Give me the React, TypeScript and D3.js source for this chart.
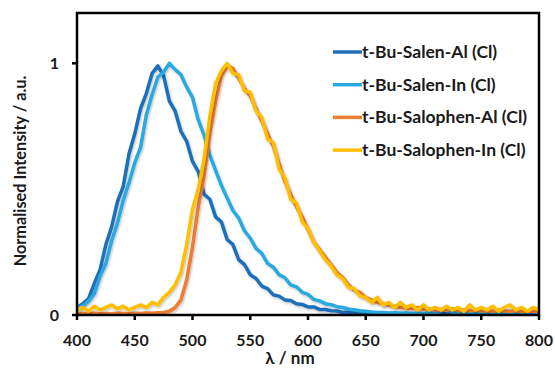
import React from "react";
import * as d3 from "d3";

const wavelengths: number[] = d3.range(400, 801, 5);

const seriesNames = [
  "t-Bu-Salen-Al (Cl)",
  "t-Bu-Salen-In (Cl)",
  "t-Bu-Salophen-Al (Cl)",
  "t-Bu-Salophen-In (Cl)",
];
const seriesColors = ["#1f6fba", "#29a9e1", "#ed7d31", "#ffbf00"];

const salenAl = [
  0.03, 0.045, 0.065, 0.125, 0.18, 0.28, 0.35, 0.45, 0.51, 0.64,
  0.72, 0.82, 0.88, 0.96, 0.99, 0.95, 0.85, 0.81, 0.73, 0.69,
  0.61, 0.57, 0.48, 0.46, 0.39, 0.37, 0.3, 0.28, 0.22, 0.2,
  0.16, 0.145, 0.115, 0.105, 0.08, 0.075, 0.06, 0.058, 0.045, 0.042,
  0.032, 0.032, 0.022, 0.022, 0.017, 0.016, 0.01, 0.012, 0.008, 0.009,
  0.006, 0.007, 0.008, 0.005, 0.006, 0.004, 0.006, 0.005, 0.004, 0.006,
  0.004, 0.005, 0.003, 0.006, 0.004, 0.005, 0.003, 0.004, 0.005, 0.003,
  0.004, 0.005, 0.003, 0.004, 0.003, 0.005, 0.003, 0.004, 0.003, 0.004,
  0.003,
];

const salenIn = [
  0.03, 0.035, 0.055, 0.085, 0.155, 0.205, 0.295, 0.365, 0.455, 0.525,
  0.605, 0.665, 0.795, 0.875, 0.945, 0.965, 1.0, 0.975, 0.955, 0.905,
  0.865, 0.775, 0.715, 0.635, 0.575, 0.515, 0.465, 0.415, 0.385, 0.335,
  0.305, 0.265, 0.245, 0.205, 0.19, 0.16, 0.148, 0.12, 0.112, 0.09,
  0.082, 0.062, 0.056, 0.045, 0.041, 0.033, 0.03, 0.024, 0.021, 0.017,
  0.015, 0.012, 0.01, 0.01, 0.008, 0.009, 0.007, 0.008, 0.006, 0.007,
  0.006, 0.008, 0.006, 0.015, 0.025, 0.01, 0.007, 0.006, 0.005, 0.007,
  0.005, 0.006, 0.004, 0.006, 0.005, 0.004, 0.006, 0.004, 0.005, 0.004,
  0.004,
];

const salophenAl = [
  0.005, 0.006, 0.005, 0.007, 0.005, 0.006, 0.005, 0.007, 0.006, 0.005,
  0.007, 0.006, 0.008, 0.007, 0.009, 0.01, 0.015, 0.03, 0.06, 0.14,
  0.27, 0.43, 0.55, 0.72, 0.85, 0.95, 0.99, 0.98, 0.94, 0.9,
  0.87, 0.82, 0.77, 0.72, 0.67, 0.6, 0.53, 0.48, 0.43, 0.39,
  0.34, 0.29, 0.26, 0.23, 0.2, 0.17, 0.15, 0.12, 0.1, 0.09,
  0.07, 0.06, 0.05, 0.045, 0.04, 0.035, 0.03, 0.028, 0.025, 0.03,
  0.022, 0.025, 0.02, 0.022, 0.02, 0.025, 0.018, 0.02, 0.017, 0.02,
  0.016, 0.018, 0.015, 0.02, 0.016, 0.015, 0.018, 0.014, 0.016, 0.015,
  0.014,
];

const salophenIn = [
  0.02, 0.03, 0.015, 0.035, 0.02, 0.03, 0.04, 0.025, 0.035, 0.02,
  0.03, 0.04, 0.03, 0.05, 0.04, 0.07, 0.09, 0.12, 0.17, 0.28,
  0.42, 0.5, 0.62, 0.79, 0.92, 0.97, 1.0, 0.96, 0.955, 0.89,
  0.885, 0.81, 0.785, 0.7, 0.685, 0.58, 0.545, 0.46, 0.445, 0.37,
  0.345, 0.29, 0.255, 0.22, 0.195, 0.16, 0.145, 0.11, 0.105, 0.075,
  0.07, 0.05, 0.07, 0.04, 0.05, 0.03, 0.05, 0.03, 0.04, 0.02,
  0.04, 0.02, 0.03, 0.02, 0.035, 0.02, 0.03, 0.015, 0.04, 0.02,
  0.03, 0.02, 0.035, 0.015, 0.03, 0.04, 0.02, 0.03, 0.015, 0.03,
  0.02,
];

const seriesValues = [salenAl, salenIn, salophenAl, salophenIn];

const xTicks = [400, 450, 500, 550, 600, 650, 700, 750, 800];
const yTicks = [0, 1];

const W = 555;
const H = 376;
const left = 77;
const right = 539;
const top = 13;
const bottom = 315;
const FONT = "Lato, 'Open Sans', sans-serif";

export default function App() {
  const x = d3.scaleLinear().domain([400, 800]).range([left, right]);
  const y = d3.scaleLinear().domain([0, 1.2]).range([bottom, top]);
  const line = d3
    .line<number>()
    .x((_, i) => x(wavelengths[i]))
    .y((d) => y(d));

  return (
    <svg
      width={W}
      height={H}
      style={{ position: "fixed", left: 0, top: 0, background: "#fff" }}
    >
      <defs>
        <filter id="sh" x="-10%" y="-10%" width="120%" height="120%">
          <feDropShadow dx="1" dy="1.5" stdDeviation="1" floodColor="#000" floodOpacity="0.25" />
        </filter>
        <clipPath id="clip">
          <rect x={left} y={top} width={right - left} height={bottom - top} />
        </clipPath>
      </defs>
      <rect x={0} y={0} width={W} height={H} fill="#fff" />
      <g clipPath="url(#clip)">
        {seriesValues.map((vals, i) => (
          <path
            key={i}
            d={line(vals) || ""}
            fill="none"
            stroke={seriesColors[i]}
            strokeWidth={3.5}
            strokeLinejoin="round"
            filter="url(#sh)"
          />
        ))}
      </g>
      <rect
        x={left}
        y={top}
        width={right - left}
        height={bottom - top}
        fill="none"
        stroke="#000"
        strokeWidth={2.5}
      />
      {xTicks.map((t) => (
        <g key={t}>
          <line x1={x(t)} x2={x(t)} y1={bottom} y2={bottom + 5} stroke="#000" strokeWidth={2.5} />
          <text
            x={x(t)}
            y={346}
            textAnchor="middle"
            fontFamily={FONT}
            fontWeight="bold"
            fontSize={16}
            fill="#1a1a1a"
          >
            {t}
          </text>
        </g>
      ))}
      {yTicks.map((t) => (
        <g key={t}>
          <line x1={left - 5} x2={left} y1={y(t)} y2={y(t)} stroke="#000" strokeWidth={2.5} />
          <text
            x={59}
            y={y(t) + 6}
            textAnchor="end"
            fontFamily={FONT}
            fontWeight="bold"
            fontSize={16}
            fill="#1a1a1a"
          >
            {t}
          </text>
        </g>
      ))}
      <text
        x={290}
        y={364}
        textAnchor="middle"
        fontFamily={FONT}
        fontWeight="bold"
        fontSize={17}
        fill="#1a1a1a"
      >
        λ / nm
      </text>
      <text
        transform={`translate(26, 171) rotate(-90)`}
        textAnchor="middle"
        fontFamily={FONT}
        fontWeight="bold"
        fontSize={16.3}
        fill="#1a1a1a"
      >
        Normalised Intensity / a.u.
      </text>
      {seriesNames.map((name, i) => {
        const ly = 52 + i * 32.7;
        return (
          <g key={name}>
            <line x1={333} x2={362} y1={ly} y2={ly} stroke={seriesColors[i]} strokeWidth={3.5} />
            <text
              x={362}
              y={ly + 6}
              fontFamily={FONT}
              fontWeight="bold"
              fontSize={17.5}
              fill="#1a1a1a"
            >
              {name}
            </text>
          </g>
        );
      })}
    </svg>
  );
}
